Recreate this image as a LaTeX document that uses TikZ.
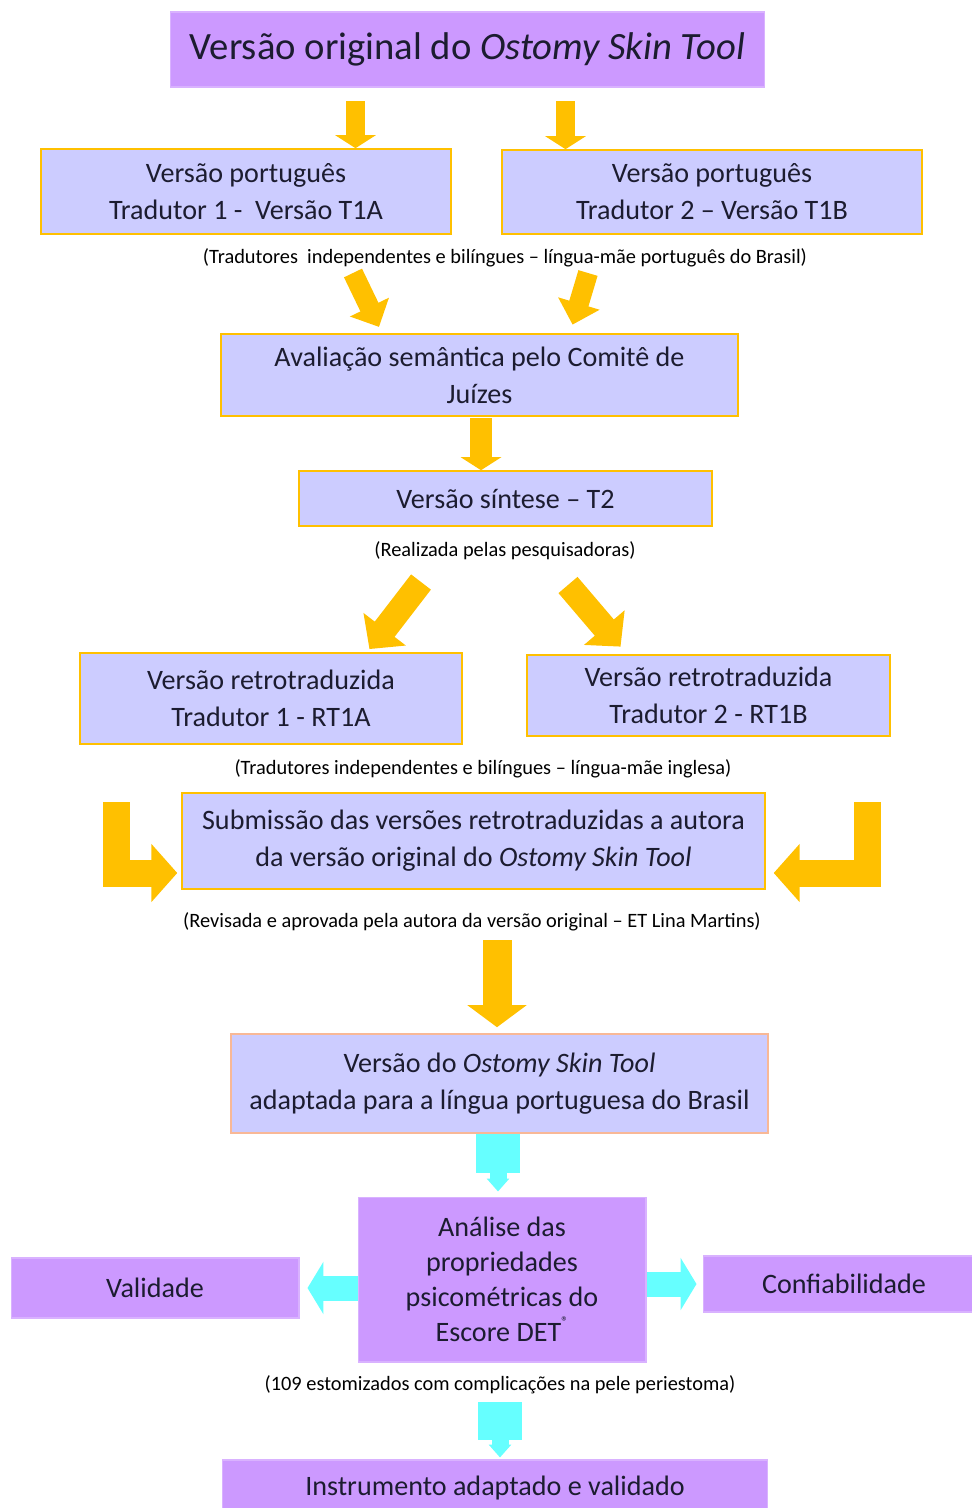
\documentclass[tikz,border=0pt]{standalone}
\usepackage{fontspec}
\setmainfont{Carlito}
\usetikzlibrary{arrows.meta}

\definecolor{lilac}{RGB}{204,153,255}
\definecolor{lavender}{RGB}{204,204,255}
\definecolor{amber}{RGB}{255,192,0}
\definecolor{aqua}{RGB}{102,255,255}
\definecolor{peach}{RGB}{248,184,150}
\definecolor{ink}{RGB}{28,28,48}

\tikzset{
  stage/.style={draw=amber, fill=lavender, line width=0.9pt, align=center, text=ink,
    inner sep=0pt, font=\fontsize{16}{21}\selectfont},
  result/.style={draw=lilac!75!white, fill=lilac, line width=0.6pt, align=center, text=ink,
    inner sep=0pt, font=\fontsize{16}{21}\selectfont},
  note/.style={font=\fontsize{11.6}{13}\selectfont},
  yarr/.style={color=amber, line width=0.38cm, -{Triangle[length=0.26cm, width=0.8cm]}},
  ydiag/.style={color=amber, line width=0.4cm, -{Triangle[length=0.44cm, width=0.84cm]}},
  ywide/.style={color=amber, line width=0.5cm, -{Triangle[length=0.5cm, width=1.04cm]}},
  ybent/.style={color=amber, line width=0.54cm, -{Triangle[length=0.52cm, width=1.14cm]}},
  ybold/.style={color=amber, line width=0.58cm, -{Triangle[length=0.44cm, width=1.16cm]}},
  carr/.style={color=aqua, line width=0.5cm, -{Triangle[length=0.32cm, width=1.04cm]}},
  cshaft/.style={color=aqua, line width=0.88cm},
  ctip/.style={color=aqua, line width=0.34cm, -{Triangle[length=0.26cm, width=0.44cm]}}
}

\begin{document}
\begin{tikzpicture}[x=0.02cm, y=-0.02cm]
\useasboundingbox (0,0) rectangle (972,1508);
\clip (0,0) rectangle (972,1508);

\node (orig) at (467.5, 49.5) [result, minimum width=11.9cm, minimum height=1.5cm,
  font=\fontsize{22}{24}\selectfont] {Versão original do \textit{Ostomy Skin Tool}};

\node (t1a) at (246, 191.5) [stage, minimum width=8.2cm, minimum height=1.7cm]
  {Versão português\\Tradutor 1 -\ \ Versão T1A};
\node (t1b) at (712, 192) [stage, minimum width=8.4cm, minimum height=1.68cm]
  {Versão português\\Tradutor 2 -- Versão T1B};
\node (n1) at (505, 258) [note] {(Tradutores\ \ independentes e bilíngues -- língua-mãe português do Brasil)};

\node (aval) at (479.5, 375) [stage, minimum width=10.34cm, minimum height=1.64cm]
  {Avaliação semântica pelo Comitê de\\Juízes};
\node (t2) at (505.5, 498.5) [stage, minimum width=8.26cm, minimum height=1.1cm] {Versão síntese -- T2};
\node (n2) at (505, 551) [note] {(Realizada pelas pesquisadoras)};

\node (rt1a) at (271, 698.5) [stage, minimum width=7.64cm, minimum height=1.82cm]
  {Versão retrotraduzida\\Tradutor 1 - RT1A};
\node (rt1b) at (708.5, 695.5) [stage, minimum width=7.26cm, minimum height=1.62cm]
  {Versão retrotraduzida\\Tradutor 2 - RT1B};
\node (n3) at (483, 769) [note] {(Tradutores independentes e bilíngues -- língua-mãe inglesa)};

\node (subm) at (473.5, 841) [stage, minimum width=11.66cm, minimum height=1.92cm]
  {Submissão das versões retrotraduzidas a autora\\da versão original do \textit{Ostomy Skin Tool}};
\node (n4) at (472, 922) [note] {(Revisada e aprovada pela autora da versão original -- ET Lina Martins)};

\node (ost) at (499.5, 1083.5) [stage, draw=peach, minimum width=10.74cm, minimum height=1.98cm]
  {Versão do \textit{Ostomy Skin Tool}\\adaptada para a língua portuguesa do Brasil};

\node (anal) at (502, 1279.5) [result, minimum width=5.76cm, minimum height=3.3cm,
  font=\fontsize{16}{19.8}\selectfont]
  {Análise das\\propriedades\\psicométricas do\\Escore DET\raisebox{1.1ex}{\fontsize{8}{8}\selectfont ®}};
\node (valid) at (155, 1288) [result, minimum width=5.76cm, minimum height=1.2cm] {Validade};
\node (conf) at (844, 1284) [result, minimum width=5.64cm, minimum height=1.12cm] {Confiabilidade};
\node (n5) at (500, 1385) [note] {(109 estomizados com complicações na pele periestoma)};
\node (instr) at (495, 1488) [result, minimum width=10.92cm, minimum height=1.12cm]
  {Instrumento adaptado e validado};

\coordinate (a1) at (355.5, 101);
\coordinate (a2) at (565.5, 101);
\path (a1) edge[yarr] (a1 |- t1a.north);
\path (a2) edge[yarr] (a2 |- t1b.north);

\coordinate (a3) at (353, 273);
\coordinate (a4) at (588, 273);
\path (a3) edge[ydiag, shorten >=0.14cm] ([xshift=-1.95cm]aval.north);
\path (a4) edge[ydiag, shorten >=0.18cm] ([xshift=1.81cm]aval.north);

\coordinate (a5) at (481, 418);
\path (a5) edge[yarr, line width=0.44cm] (a5 |- t2.north);

\coordinate (a6) at (421, 582);
\coordinate (a7) at (568, 585);
\path (a6) edge[ywide, shorten >=0.08cm] ([xshift=1.92cm]rt1a.north);
\path (a7) edge[ywide, shorten >=0.2cm] ([xshift=-1.63cm]rt1b.north);

\coordinate (lt) at (116.5, 802);
\coordinate (rt) at (867, 802);
\draw[ybent, shorten >=0.08cm] (lt) |- ([yshift=-0.64cm]subm.west);
\draw[ybent, shorten >=0.16cm] (rt) |- ([yshift=-0.64cm]subm.east);

\coordinate (a8) at (497, 940);
\path (a8) edge[ybold, shorten >=0.12cm] (a8 |- ost.north);

\coordinate (c1) at (498, 1173);
\draw[cshaft] (c1 |- ost.south) -- (c1);
\draw[ctip, shorten >=0.1cm] (c1) -- (c1 |- anal.north);
\draw[carr, shorten >=0.16cm] (anal.west |- valid.east) -- (valid.east);
\draw[carr, shorten >=0.12cm] (anal.east |- conf.west) -- (conf.west);

\coordinate (c2) at (500, 1402);
\coordinate (c3) at (500, 1440);
\draw[cshaft] (c2) -- (c3);
\draw[ctip, shorten >=0.04cm] (c3) -- (c3 |- instr.north);
\end{tikzpicture}
\end{document}
